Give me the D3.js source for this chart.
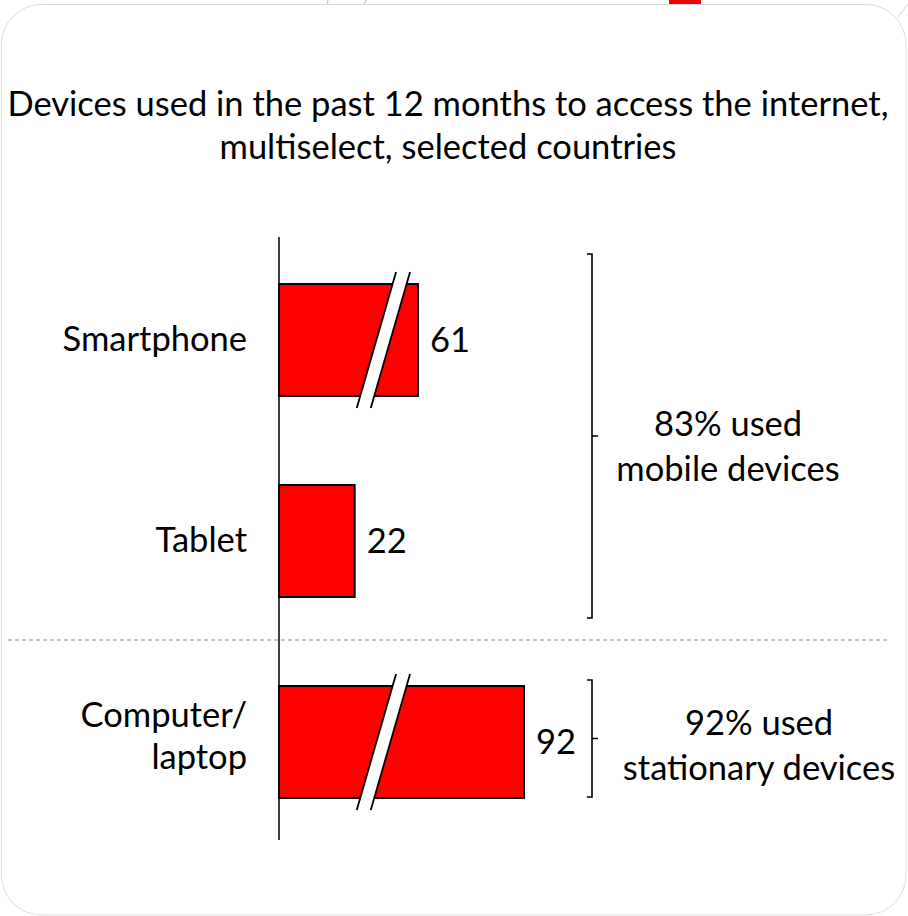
<!DOCTYPE html>
<html><head><meta charset="utf-8">
<script src="https://cdn.jsdelivr.net/npm/d3@7"></script>
<style>html,body{margin:0;padding:0;background:#fff;}svg{display:block;}</style>
</head><body>
<script>
const titleLines = ["Devices used in the past 12 months to access the internet,", "multiselect, selected countries"];
const categories = ["Smartphone", "Tablet", "Computer/laptop"];
const categoryLines = [["Smartphone"], ["Tablet"], ["Computer/", "laptop"]];
const values = [61, 22, 92];
const hasBreak = [true, false, true];
const groups = ["mobile", "stationary"];
const groupMembers = [["Smartphone", "Tablet"], ["Computer/laptop"]];
const groupLabels = [["83% used", "mobile devices"], ["92% used", "stationary devices"]];
// broken axis: value domain with a compressed segment
const xDomain = [0, 25, 55, 100];
const breakValue = 42;

const W = 908, H = 916;
const font = "Lato, 'Open Sans', sans-serif";
const FS = 34.5;
const svg = d3.select("body").append("svg").attr("width", W).attr("height", H);

// frame and background decorations
svg.append("rect").attr("x", 669).attr("y", 0).attr("width", 32).attr("height", 6).attr("fill", "#f00000");
svg.append("line").attr("x1", 328).attr("y1", 0).attr("x2", 327).attr("y2", 5).attr("stroke", "#d9b3b8").attr("stroke-width", 1);
svg.append("line").attr("x1", 366).attr("y1", 0).attr("x2", 364).attr("y2", 5).attr("stroke", "#d9b3b8").attr("stroke-width", 1);
svg.append("line").attr("x1", 908).attr("y1", 4).attr("x2", 898).attr("y2", 17).attr("stroke", "#e6c4c8").attr("stroke-width", 1);
svg.append("rect").attr("x", 1.5).attr("y", 4.5).attr("width", 904.5).attr("height", 910.5)
  .attr("rx", 40).attr("fill", "#fff").attr("stroke", "#dcdcdc").attr("stroke-width", 1);

// title
const titleBase = [116, 159];
titleLines.forEach((t, i) => {
  svg.append("text").attr("x", 448).attr("y", titleBase[i]).attr("text-anchor", "middle")
    .attr("font-family", font).attr("font-size", FS).attr("fill", "#000").text(t);
});

const x0 = 279;
const x = d3.scaleLinear().domain(xDomain).range([x0, x0 + 86, x0 + 118.5, x0 + 272.4]);
const y = d3.scaleBand().domain(categories).range([240, 842]).paddingInner(0.443).paddingOuter(0.219);
const bw = y.bandwidth();

// dashed separator between groups
const sepY = (y("Tablet") + bw + y("Computer/laptop")) / 2 - 1.5;
svg.append("line").attr("x1", 8).attr("x2", 888).attr("y1", sepY).attr("y2", sepY)
  .attr("stroke", "#8c8c8c").attr("stroke-width", 1.2).attr("stroke-dasharray", "4,3");

// bars
const data = categories.map((c, i) => ({ c, v: values[i], br: hasBreak[i], lines: categoryLines[i] }));
svg.selectAll("rect.bar").data(data).enter().append("rect").attr("class", "bar")
  .attr("x", x(0)).attr("y", d => y(d.c)).attr("width", d => x(d.v) - x(0)).attr("height", bw)
  .attr("fill", "#ff0000").attr("stroke", "#000").attr("stroke-width", 2);

// break marks
const slope = -0.289, gap = 14, ext = 12;
data.filter(d => d.br).forEach(d => {
  const cy = y(d.c) + bw / 2;
  const cx = x(breakValue) - gap / 2;
  const y1 = y(d.c) - ext, y2 = y(d.c) + bw + ext;
  const xa = yy => cx + slope * (yy - cy);
  svg.append("polygon")
    .attr("points", [[xa(y1), y1], [xa(y1) + gap, y1], [xa(y2) + gap, y2], [xa(y2), y2]].map(p => p.join(",")).join(" "))
    .attr("fill", "#fff");
  [0, gap].forEach(o => svg.append("line").attr("x1", xa(y1) + o).attr("y1", y1).attr("x2", xa(y2) + o).attr("y2", y2)
    .attr("stroke", "#000").attr("stroke-width", 1.8));
});

// axis line
svg.append("line").attr("x1", x0).attr("x2", x0).attr("y1", 237).attr("y2", 840)
  .attr("stroke", "#000").attr("stroke-width", 1.5);

// value labels
svg.selectAll("text.val").data(data).enter().append("text").attr("class", "val")
  .attr("x", d => x(d.v) + 12).attr("y", d => y(d.c) + bw / 2 + 12)
  .attr("font-family", font).attr("font-size", FS).attr("fill", "#000").text(d => d.v);

// category labels
data.forEach(d => {
  const n = d.lines.length;
  d.lines.forEach((l, i) => {
    const base = n === 1 ? y(d.c) + bw / 2 + 11 : y(d.c) + bw / 2 - 15 + i * 42;
    svg.append("text").attr("x", 247).attr("y", base)
      .attr("text-anchor", "end").attr("font-family", font).attr("font-size", FS).attr("fill", "#000").text(l);
  });
});

// group brackets
const bx = 592;
const gExt = [[-30, 21], [-6, -1]];
const gTextX = [728, 759];
const gTextOff = [0, -4];
groups.forEach((g, gi) => {
  const mem = groupMembers[gi];
  const top = y(mem[0]) + gExt[gi][0];
  const bot = y(mem[mem.length - 1]) + bw + gExt[gi][1];
  const mid = (top + bot) / 2;
  const p = d3.path();
  p.moveTo(bx - 5, top); p.lineTo(bx, top); p.lineTo(bx, bot); p.lineTo(bx - 5, bot);
  p.moveTo(bx, mid); p.lineTo(bx + 6, mid);
  svg.append("path").attr("d", p.toString()).attr("fill", "none").attr("stroke", "#000").attr("stroke-width", 1.6);
  groupLabels[gi].forEach((l, i) => {
    svg.append("text").attr("x", gTextX[gi]).attr("y", mid + gTextOff[gi] + i * 45)
      .attr("text-anchor", "middle").attr("font-family", font).attr("font-size", FS).attr("fill", "#000").text(l);
  });
});
</script>
</body></html>
